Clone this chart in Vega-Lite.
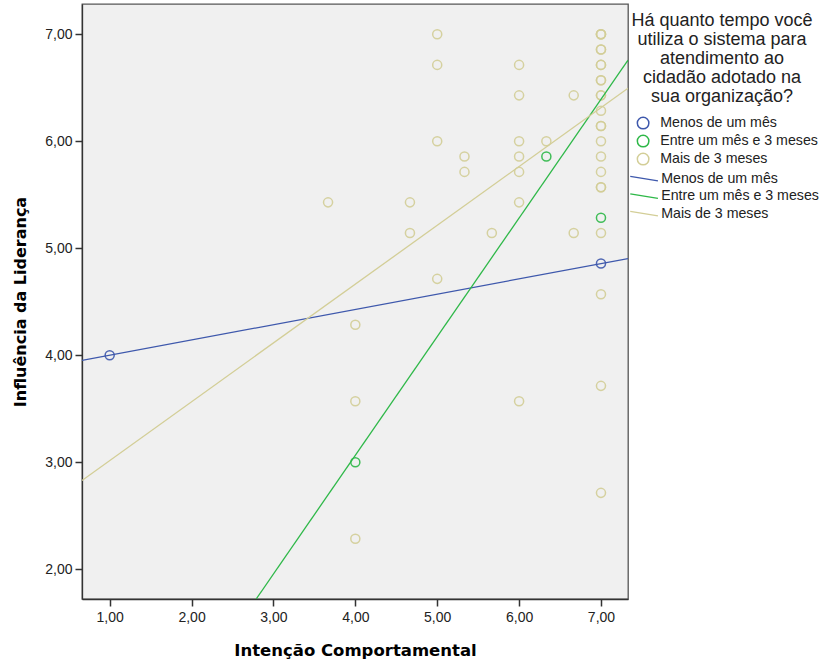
{
  "$schema": "https://vega.github.io/schema/vega-lite/v6.json",
  "width": 546,
  "height": 595,
  "autosize": {"type": "none"},
  "padding": {"left": 82, "top": 4, "right": 193, "bottom": 63},
  "background": "white",
  "config": {
    "view": {"fill": "#f0f0f0", "stroke": "#555555", "strokeWidth": 1.3},
    "font": "Liberation Sans",
    "legend": {"padding": 0}
  },
  "datasets": {
    "pts": [
      {"intencao": 1, "lideranca": 4.0, "grupo": "Menos de um mês"},
      {"intencao": 7, "lideranca": 4.857, "grupo": "Menos de um mês"},
      {"intencao": 4, "lideranca": 3.0, "grupo": "Entre um mês e 3 meses"},
      {"intencao": 6.333, "lideranca": 5.857, "grupo": "Entre um mês e 3 meses"},
      {"intencao": 7, "lideranca": 5.286, "grupo": "Entre um mês e 3 meses"},
      {"intencao": 3.667, "lideranca": 5.429, "grupo": "Mais de 3 meses"},
      {"intencao": 4, "lideranca": 4.286, "grupo": "Mais de 3 meses"},
      {"intencao": 4, "lideranca": 3.571, "grupo": "Mais de 3 meses"},
      {"intencao": 4, "lideranca": 2.286, "grupo": "Mais de 3 meses"},
      {"intencao": 4.667, "lideranca": 5.429, "grupo": "Mais de 3 meses"},
      {"intencao": 4.667, "lideranca": 5.143, "grupo": "Mais de 3 meses"},
      {"intencao": 5, "lideranca": 7.0, "grupo": "Mais de 3 meses"},
      {"intencao": 5, "lideranca": 6.714, "grupo": "Mais de 3 meses"},
      {"intencao": 5, "lideranca": 6.0, "grupo": "Mais de 3 meses"},
      {"intencao": 5, "lideranca": 4.714, "grupo": "Mais de 3 meses"},
      {"intencao": 5.333, "lideranca": 5.857, "grupo": "Mais de 3 meses"},
      {"intencao": 5.333, "lideranca": 5.714, "grupo": "Mais de 3 meses"},
      {"intencao": 5.667, "lideranca": 5.143, "grupo": "Mais de 3 meses"},
      {"intencao": 6, "lideranca": 6.714, "grupo": "Mais de 3 meses"},
      {"intencao": 6, "lideranca": 6.429, "grupo": "Mais de 3 meses"},
      {"intencao": 6, "lideranca": 6.0, "grupo": "Mais de 3 meses"},
      {"intencao": 6, "lideranca": 5.857, "grupo": "Mais de 3 meses"},
      {"intencao": 6, "lideranca": 5.714, "grupo": "Mais de 3 meses"},
      {"intencao": 6, "lideranca": 5.429, "grupo": "Mais de 3 meses"},
      {"intencao": 6, "lideranca": 3.571, "grupo": "Mais de 3 meses"},
      {"intencao": 6.333, "lideranca": 6.0, "grupo": "Mais de 3 meses"},
      {"intencao": 6.667, "lideranca": 6.429, "grupo": "Mais de 3 meses"},
      {"intencao": 6.667, "lideranca": 5.143, "grupo": "Mais de 3 meses"},
      {"intencao": 7, "lideranca": 7.0, "grupo": "Mais de 3 meses"},
      {"intencao": 7, "lideranca": 7.0, "grupo": "Mais de 3 meses"},
      {"intencao": 7, "lideranca": 7.0, "grupo": "Mais de 3 meses"},
      {"intencao": 7, "lideranca": 6.857, "grupo": "Mais de 3 meses"},
      {"intencao": 7, "lideranca": 6.857, "grupo": "Mais de 3 meses"},
      {"intencao": 7, "lideranca": 6.714, "grupo": "Mais de 3 meses"},
      {"intencao": 7, "lideranca": 6.714, "grupo": "Mais de 3 meses"},
      {"intencao": 7, "lideranca": 6.571, "grupo": "Mais de 3 meses"},
      {"intencao": 7, "lideranca": 6.571, "grupo": "Mais de 3 meses"},
      {"intencao": 7, "lideranca": 6.429, "grupo": "Mais de 3 meses"},
      {"intencao": 7, "lideranca": 6.429, "grupo": "Mais de 3 meses"},
      {"intencao": 7, "lideranca": 6.286, "grupo": "Mais de 3 meses"},
      {"intencao": 7, "lideranca": 6.143, "grupo": "Mais de 3 meses"},
      {"intencao": 7, "lideranca": 6.143, "grupo": "Mais de 3 meses"},
      {"intencao": 7, "lideranca": 6.0, "grupo": "Mais de 3 meses"},
      {"intencao": 7, "lideranca": 5.857, "grupo": "Mais de 3 meses"},
      {"intencao": 7, "lideranca": 5.714, "grupo": "Mais de 3 meses"},
      {"intencao": 7, "lideranca": 5.571, "grupo": "Mais de 3 meses"},
      {"intencao": 7, "lideranca": 5.571, "grupo": "Mais de 3 meses"},
      {"intencao": 7, "lideranca": 5.143, "grupo": "Mais de 3 meses"},
      {"intencao": 7, "lideranca": 4.571, "grupo": "Mais de 3 meses"},
      {"intencao": 7, "lideranca": 3.714, "grupo": "Mais de 3 meses"},
      {"intencao": 7, "lideranca": 2.714, "grupo": "Mais de 3 meses"}
    ],
    "fit": [
      {"intencao": 0.662, "lideranca": 3.952, "linha": "Menos de um mês"},
      {"intencao": 7.33, "lideranca": 4.904, "linha": "Menos de um mês"},
      {"intencao": 2.789, "lideranca": 1.722, "linha": "Entre um mês e 3 meses"},
      {"intencao": 7.33, "lideranca": 6.758, "linha": "Entre um mês e 3 meses"},
      {"intencao": 0.662, "lideranca": 2.83, "linha": "Mais de 3 meses"},
      {"intencao": 7.33, "lideranca": 6.495, "linha": "Mais de 3 meses"}
    ]
  },
  "layer": [
    {
      "data": {"name": "pts"},
      "mark": {"type": "point", "filled": false, "size": 82, "strokeWidth": 1.5, "opacity": 0.9, "clip": true},
      "encoding": {
        "x": {
          "field": "intencao", "type": "quantitative",
          "scale": {"domain": [0.662, 7.33], "nice": false, "zero": false},
          "axis": {
            "title": "Intenção Comportamental",
            "values": [1, 2, 3, 4, 5, 6, 7],
            "labelExpr": "replace(format(datum.value, '.2f'), '.', ',')",
            "grid": false, "tickSize": 7, "tickWidth": 1.5, "tickColor": "#333333",
            "domainColor": "#333333", "domainWidth": 1.3,
            "labelFont": "Liberation Sans", "labelFontSize": 14, "labelColor": "#222222", "labelPadding": 4,
            "titleFont": "DejaVu Sans", "titleFontSize": 16.5, "titleFontWeight": "bold", "titleColor": "#000000", "titlePadding": 18
          }
        },
        "y": {
          "field": "lideranca", "type": "quantitative",
          "scale": {"domain": [1.722, 7.283], "nice": false, "zero": false},
          "axis": {
            "title": "Influência da Liderança",
            "values": [2, 3, 4, 5, 6, 7],
            "labelExpr": "replace(format(datum.value, '.2f'), '.', ',')",
            "grid": false, "tickSize": 7, "tickWidth": 1.5, "tickColor": "#333333",
            "domainColor": "#333333", "domainWidth": 1.3,
            "labelFont": "Liberation Sans", "labelFontSize": 14, "labelColor": "#222222", "labelPadding": 3,
            "titleFont": "DejaVu Sans", "titleFontSize": 16, "titleFontWeight": "bold", "titleColor": "#000000", "titlePadding": 16
          }
        },
        "color": {
          "field": "grupo", "type": "nominal",
          "scale": {"domain": ["Menos de um mês", "Entre um mês e 3 meses", "Mais de 3 meses"], "range": ["#3e58ac", "#2eb848", "#d3ce97"]},
          "legend": {
            "title": ["Há quanto tempo você", "utiliza o sistema para", "atendimento ao", "cidadão adotado na", "sua organização?"],
            "orient": "none", "legendX": 544, "legendY": 8,
            "titleFont": "Liberation Sans", "titleFontSize": 18, "titleFontWeight": "normal", "titleColor": "#222222",
            "titleLineHeight": 19, "titleAlign": "center", "titleAnchor": "middle", "titleLimit": 300, "titlePadding": 10,
            "symbolType": "circle", "symbolSize": 133, "symbolStrokeWidth": 1.5, "symbolOpacity": 1, "symbolOffset": 10,
            "labelFont": "Liberation Sans", "labelFontSize": 14.2, "labelColor": "#222222", "labelLimit": 300, "labelOffset": 10,
            "rowPadding": 0
          }
        }
      }
    },
    {
      "data": {"name": "fit"},
      "mark": {"type": "line", "strokeWidth": 1.3, "clip": true},
      "encoding": {
        "x": {"field": "intencao", "type": "quantitative"},
        "y": {"field": "lideranca", "type": "quantitative"},
        "color": {
          "field": "linha", "type": "nominal",
          "scale": {"domain": ["Menos de um mês", "Entre um mês e 3 meses", "Mais de 3 meses"], "range": ["#3e58ac", "#2eb848", "#d3ce97"]},
          "legend": {
            "title": null,
            "orient": "none", "legendX": 555, "legendY": 167.5,
            "symbolType": "M-2.4,-0.4L2.4,0.4", "symbolSize": 133, "symbolStrokeWidth": 1.3,
            "labelFont": "Liberation Sans", "labelFontSize": 14.2, "labelColor": "#222222", "labelLimit": 300, "labelOffset": 10,
            "rowPadding": 2.5
          }
        }
      }
    }
  ],
  "resolve": {"scale": {"color": "independent"}, "legend": {"color": "independent"}}
}
